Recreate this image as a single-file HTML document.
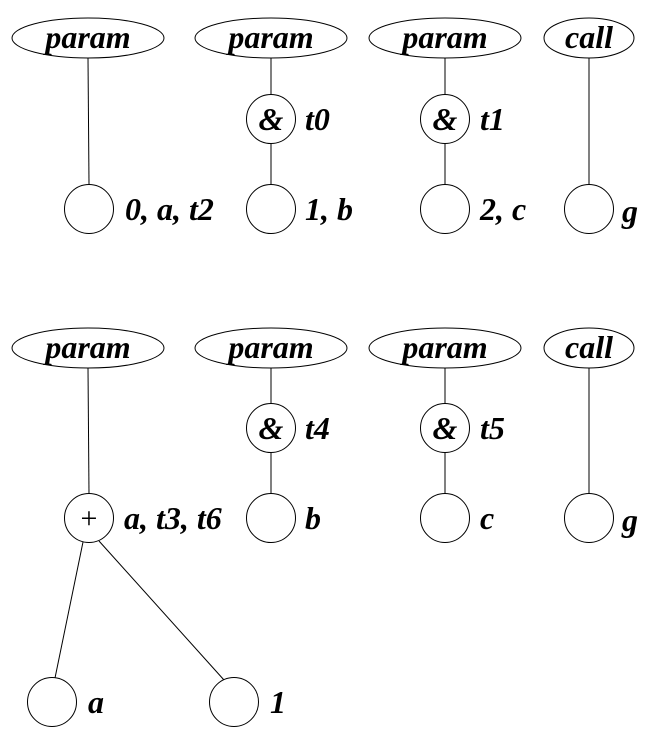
<!DOCTYPE html>
<html><head><meta charset="utf-8"><style>
html,body{margin:0;padding:0;background:#fff;}
svg{display:block;}
svg text{font-family:"Liberation Serif","Times New Roman","DejaVu Serif",serif;font-weight:bold;font-style:italic;font-size:32px;fill:#000;}
</style></head><body>
<svg width="663" height="737" viewBox="0 0 663 737" xmlns="http://www.w3.org/2000/svg" font-family="Liberation Serif, serif">
<g stroke="#000" stroke-width="1" fill="none">
<line x1="88" y1="58" x2="89" y2="184"/>
<line x1="271" y1="58" x2="271" y2="95"/>
<line x1="271" y1="143" x2="271" y2="184"/>
<line x1="445" y1="58" x2="445" y2="95"/>
<line x1="445" y1="143" x2="445" y2="184"/>
<line x1="589" y1="58" x2="589" y2="184"/>
<ellipse cx="88" cy="38" rx="76" ry="20" fill="#fff"/>
<ellipse cx="271" cy="38" rx="76" ry="20" fill="#fff"/>
<ellipse cx="445" cy="38" rx="76" ry="20" fill="#fff"/>
<ellipse cx="589" cy="38" rx="45" ry="20" fill="#fff"/>
<circle cx="271" cy="119" r="24.5" fill="#fff"/>
<circle cx="445" cy="119" r="24.5" fill="#fff"/>
<circle cx="89" cy="209" r="24.5" fill="#fff"/>
<circle cx="271" cy="209" r="24.5" fill="#fff"/>
<circle cx="445" cy="209" r="24.5" fill="#fff"/>
<circle cx="589" cy="209" r="24.5" fill="#fff"/>
<line x1="88" y1="368" x2="89" y2="494"/>
<line x1="271" y1="368" x2="271" y2="404"/>
<line x1="271" y1="452" x2="271" y2="494"/>
<line x1="445" y1="368" x2="445" y2="404"/>
<line x1="445" y1="452" x2="445" y2="494"/>
<line x1="589" y1="368" x2="589" y2="494"/>
<line x1="83" y1="542" x2="55" y2="678"/>
<line x1="99" y1="541" x2="224" y2="680"/>
<ellipse cx="88" cy="348" rx="76" ry="20" fill="#fff"/>
<ellipse cx="271" cy="348" rx="76" ry="20" fill="#fff"/>
<ellipse cx="445" cy="348" rx="76" ry="20" fill="#fff"/>
<ellipse cx="589" cy="348" rx="45" ry="20" fill="#fff"/>
<circle cx="271" cy="428" r="24.5" fill="#fff"/>
<circle cx="445" cy="428" r="24.5" fill="#fff"/>
<circle cx="89" cy="518" r="24.5" fill="#fff"/>
<circle cx="271" cy="518" r="24.5" fill="#fff"/>
<circle cx="445" cy="518" r="24.5" fill="#fff"/>
<circle cx="589" cy="518" r="24.5" fill="#fff"/>
<circle cx="52" cy="702" r="24.5" fill="#fff"/>
<circle cx="234" cy="702" r="24.5" fill="#fff"/>
</g>
<g text-anchor="middle">
<text x="88" y="48">param</text>
<text x="271" y="48">param</text>
<text x="445" y="48">param</text>
<text x="589" y="48">call</text>
<text x="271" y="130">&amp;</text>
<text x="445" y="130">&amp;</text>
<text x="88" y="358">param</text>
<text x="271" y="358">param</text>
<text x="445" y="358">param</text>
<text x="589" y="358">call</text>
<text x="271" y="439">&amp;</text>
<text x="445" y="439">&amp;</text>
<text x="89" y="528" style="font-style:normal;font-weight:normal;font-size:30px">+</text>
</g>
<text x="305" y="130">t0</text>
<text x="480" y="130">t1</text>
<text x="125" y="220">0, a, t2</text>
<text x="305" y="220">1, b</text>
<text x="480" y="220">2, c</text>
<text x="622" y="222">g</text>
<text x="305" y="439">t4</text>
<text x="480" y="439">t5</text>
<text x="124" y="529">a, t3, t6</text>
<text x="305" y="529">b</text>
<text x="480" y="529">c</text>
<text x="622" y="531">g</text>
<text x="88" y="713">a</text>
<text x="270" y="713">1</text>
</svg>
</body></html>
